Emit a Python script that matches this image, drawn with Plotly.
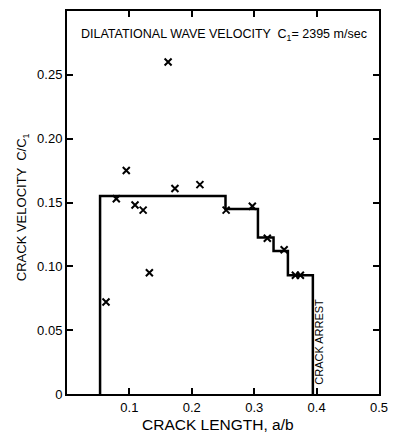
import plotly.graph_objects as go

# Measured crack velocities (x markers)
crack_length = [0.0625, 0.079, 0.095, 0.109, 0.122, 0.132, 0.162, 0.173, 0.213,
                0.255, 0.297, 0.321, 0.348, 0.366, 0.374]
crack_velocity = [0.072, 0.153, 0.175, 0.148, 0.144, 0.095, 0.260, 0.161, 0.164,
                  0.144, 0.147, 0.122, 0.113, 0.093, 0.093]

# Step curve (average velocity), drawn with hv line shape
step_length = [0.053, 0.053, 0.254, 0.306, 0.331, 0.354, 0.394]
step_velocity = [0.0, 0.155, 0.145, 0.1225, 0.112, 0.093, 0.0]

x_tickvals = [0.1, 0.2, 0.3, 0.4, 0.5]
x_ticktext = ["0.1", "0.2", "0.3", "0.4", "0.5"]
y_tickvals = [0, 0.05, 0.10, 0.15, 0.20, 0.25]
y_ticktext = ["0", "0.05", "0.10", "0.15", "0.20", "0.25"]

FONT = "Liberation Sans"

fig = go.Figure()
fig.add_trace(go.Scatter(
    x=step_length, y=step_velocity, mode="lines", line_shape="hv",
    line=dict(color="black", width=2.5), showlegend=False, hoverinfo="skip"))
fig.add_trace(go.Scatter(
    x=crack_length, y=crack_velocity, mode="markers",
    marker=dict(symbol="x-thin-open", size=7, line=dict(color="black", width=2), color="black"),
    showlegend=False))

axis_common = dict(showline=True, linecolor="black", linewidth=2, mirror="ticks",
                   ticks="inside", ticklen=6, tickwidth=1.5, tickcolor="black",
                   showgrid=False, zeroline=False,
                   tickfont=dict(family=FONT, size=13, color="black"))

fig.update_xaxes(range=[0, 0.5], tickvals=x_tickvals, ticktext=x_ticktext,
                 ticklabeloverflow="allow", **axis_common)
fig.update_yaxes(range=[0, 0.3], tickvals=y_tickvals, ticktext=y_ticktext, **axis_common)

fig.update_layout(
    width=397, height=440,
    margin=dict(l=67, r=10, t=9, b=46),
    plot_bgcolor="white", paper_bgcolor="white",
    annotations=[
        dict(text="DILATATIONAL WAVE VELOCITY  C<sub>1</sub>= 2395 m/sec",
             xref="paper", yref="paper", x=0.037, y=0.938, xanchor="left", yanchor="middle",
             showarrow=False, font=dict(family=FONT, size=12.5, color="black")),
        dict(text="CRACK ARREST", xref="x", yref="y", x=0.404, y=0.041,
             textangle=-90, showarrow=False, font=dict(family=FONT, size=11, color="black")),
        dict(text="CRACK LENGTH, a/b", xref="paper", yref="paper", x=0.485, y=-0.079,
             xanchor="center", yanchor="middle", showarrow=False,
             font=dict(family=FONT, size=15.5, color="black")),
        dict(text="CRACK VELOCITY  C/C<sub>1</sub>", xref="paper", yref="paper", x=-0.142, y=0.487,
             xanchor="center", yanchor="middle", textangle=-90, showarrow=False,
             font=dict(family=FONT, size=13, color="black")),
    ],
)

# Remove the browser's default body margin so the 397x440 figure fills the window exactly.
fig.write_html("out.html",
               config={"displayModeBar": False},
               post_script="document.body.style.margin='0';document.body.style.overflow='hidden';")
